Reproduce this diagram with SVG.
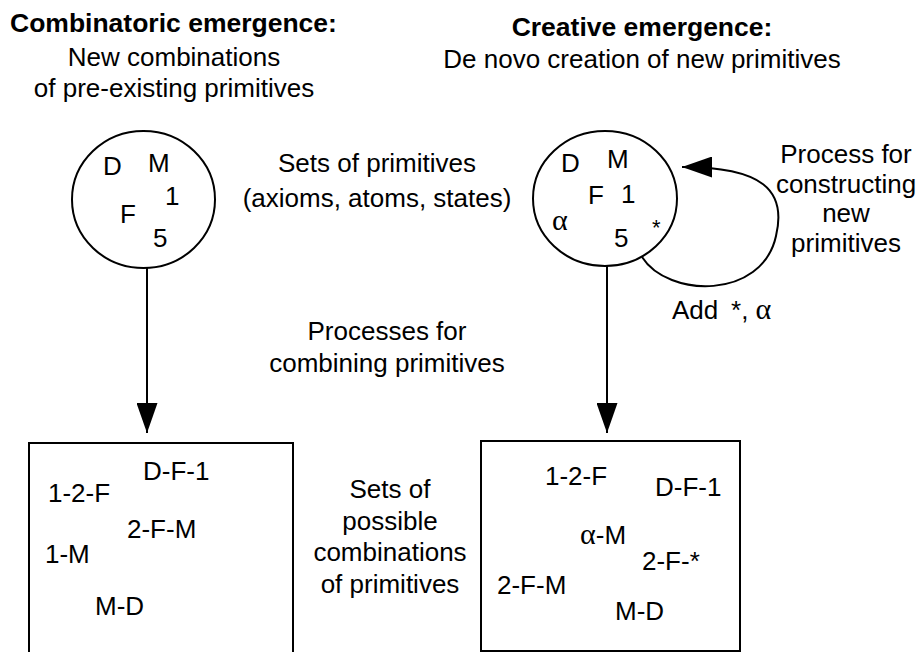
<svg xmlns="http://www.w3.org/2000/svg" width="920" height="652" viewBox="0 0 920 652">
<defs>
<style>
text{font-family:"Liberation Sans",Arial,sans-serif;font-size:26px;fill:#000}
.b{font-weight:bold;font-size:26.5px}
.m{text-anchor:middle}
.g{font-family:"Liberation Serif","Times New Roman",serif;font-size:30px}
.sh{fill:#fff;stroke:#000;stroke-width:2}
.ln{fill:none;stroke:#000;stroke-width:2}
</style>
<marker id="ah" viewBox="0 0 30 21" refX="30" refY="10.5" markerWidth="30" markerHeight="21" markerUnits="userSpaceOnUse" orient="auto">
<path d="M0,0 L30,10.5 L0,21 Z" fill="#000"/>
</marker>
</defs>
<rect width="920" height="652" fill="#fff"/>
<g id="titles">
<text class="b" x="10" y="32">Combinatoric emergence:</text>
<text class="m" x="174" y="66">New combinations</text>
<text class="m" x="174" y="97">of pre-existing primitives</text>
<text class="b m" x="642" y="36">Creative emergence:</text>
<text class="m" x="642" y="68">De novo creation of new primitives</text>
</g>
<g id="connectors">
<line class="ln" x1="147" y1="268" x2="147" y2="433" marker-end="url(#ah)"/>
<line class="ln" x1="607" y1="266" x2="607" y2="433" marker-end="url(#ah)"/>
<path class="ln" d="M642,257 C668,298 762,300 776,236 C787,190 762,167 682,167" marker-end="url(#ah)"/>
</g>
<g id="set-left">
<ellipse class="sh" cx="143.5" cy="199.5" rx="71.5" ry="68.5"/>
<text x="103" y="175">D</text>
<text x="148" y="172">M</text>
<text x="165" y="205">1</text>
<text x="120" y="223">F</text>
<text x="153" y="247">5</text>
</g>
<g id="set-right">
<ellipse class="sh" cx="605" cy="198.5" rx="72" ry="67.5"/>
<text x="561" y="172">D</text>
<text x="607" y="168">M</text>
<text x="588" y="204">F</text>
<text x="621" y="203">1</text>
<text class="g" x="552" y="230">α</text>
<text x="652" y="235" style="font-size:22px">*</text>
<text x="614" y="247">5</text>
</g>
<g id="label-sets">
<text class="m" x="377" y="172">Sets of primitives</text>
<text class="m" x="377" y="207">(axioms, atoms, states)</text>
</g>
<g id="label-process-new">
<text class="m" x="846" y="163">Process for</text>
<text class="m" x="846" y="193">constructing</text>
<text class="m" x="846" y="222">new</text>
<text class="m" x="846" y="252">primitives</text>
</g>
<g id="label-add">
<text x="672" y="319">Add  <tspan x="731">*</tspan><tspan>, </tspan><tspan class="g">α</tspan></text>
</g>
<g id="label-combining">
<text class="m" x="387" y="340">Processes for</text>
<text class="m" x="387" y="372">combining primitives</text>
</g>
<g id="box-left">
<rect class="sh" x="29" y="443" width="264" height="230"/>
<text x="143" y="480">D-F-1</text>
<text x="48" y="502">1-2-F</text>
<text x="127" y="538">2-F-M</text>
<text x="45" y="563">1-M</text>
<text x="95" y="615">M-D</text>
</g>
<g id="label-combinations">
<text class="m" x="390" y="498">Sets of</text>
<text class="m" x="390" y="530">possible</text>
<text class="m" x="390" y="561">combinations</text>
<text class="m" x="390" y="593">of primitives</text>
</g>
<g id="box-right">
<rect class="sh" x="481" y="441" width="259" height="210"/>
<text x="545" y="485">1-2-F</text>
<text x="655" y="496">D-F-1</text>
<text x="580" y="544"><tspan class="g">α</tspan>-M</text>
<text x="642" y="570">2-F-*</text>
<text x="497" y="594">2-F-M</text>
<text x="615" y="620">M-D</text>
</g>
</svg>
